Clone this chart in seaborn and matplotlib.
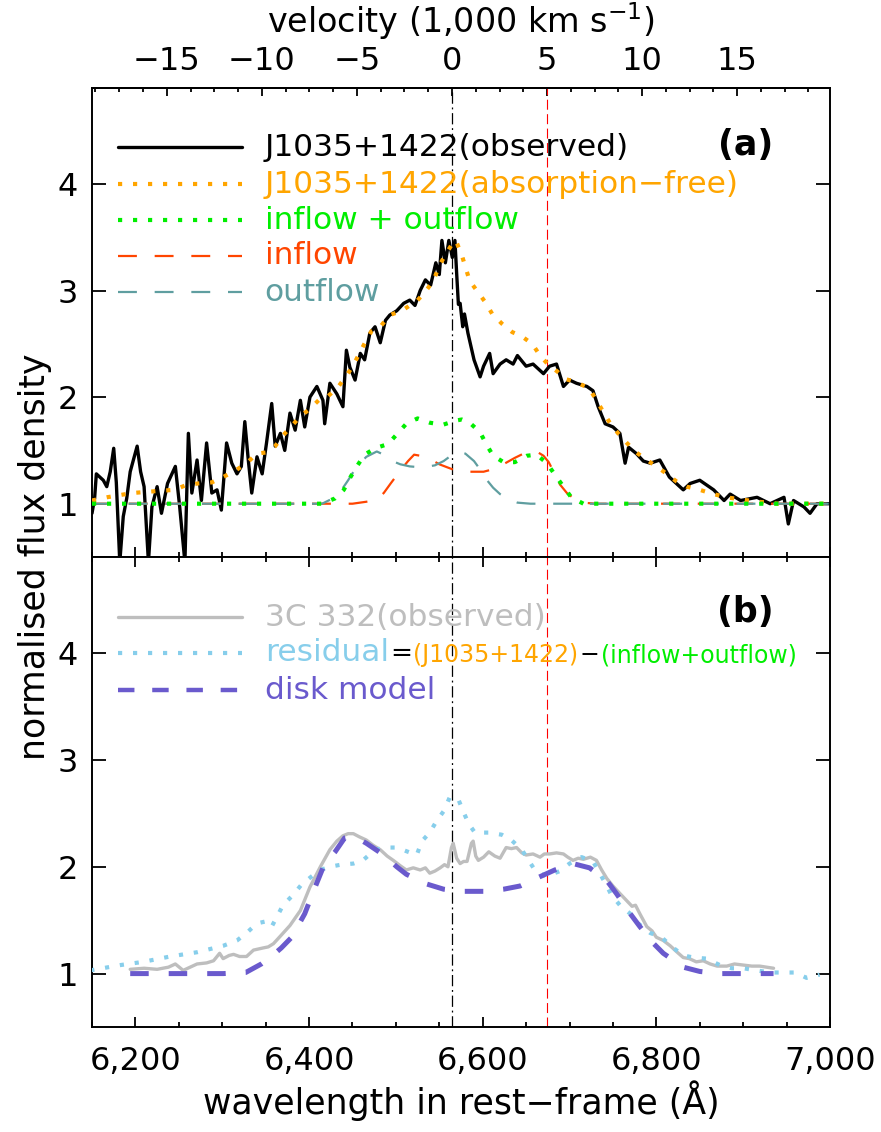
import numpy as np
import pandas as pd
import matplotlib
matplotlib.use("Agg")
import matplotlib.pyplot as plt
from matplotlib.ticker import MultipleLocator, FuncFormatter
import seaborn as sns

LAM0 = 6564.6          # H-alpha rest wavelength
C_KMS = 299792.458
LAM_RED = 6674.0       # +5,000 km/s marker

# ---------------- panel (a) ----------------
obs_wl = [6150, 6153, 6155, 6159, 6163, 6167, 6171, 6175, 6178, 6182, 6186, 6190, 6194, 6202, 6206,
          6210, 6215, 6219, 6225, 6230, 6237, 6242, 6246, 6251, 6257, 6261, 6265, 6271, 6276, 6282,
          6288, 6294, 6299, 6305, 6311, 6317, 6322, 6326, 6330, 6334, 6340, 6346, 6351, 6357, 6361,
          6367, 6372, 6378, 6384, 6390, 6395, 6401, 6409, 6416, 6418, 6424, 6432, 6439, 6443, 6447,
          6453, 6459, 6464, 6470, 6476, 6482, 6488, 6493, 6501, 6509, 6516, 6522, 6528, 6534, 6540,
          6546, 6550, 6553, 6557, 6561, 6565, 6568, 6570, 6572, 6574, 6577, 6579, 6583, 6590, 6597,
          6601, 6608, 6612, 6620, 6627, 6635, 6640, 6650, 6658, 6670, 6677, 6685, 6693, 6700, 6708,
          6720, 6727, 6733, 6741, 6750, 6758, 6764, 6768, 6777, 6785, 6793, 6804, 6815, 6831, 6839,
          6850, 6866, 6878, 6885, 6897, 6916, 6931, 6947, 6952, 6958, 6970, 6977, 6985, 7000]
obs_fl = [0.91, 1.05, 1.28, 1.25, 1.22, 1.16, 1.30, 1.52, 1.20, 0.45, 0.88, 1.05, 1.30, 1.54, 1.30,
          1.16, 0.45, 0.97, 1.16, 0.91, 1.19, 1.28, 1.35, 0.97, 0.45, 1.66, 1.10, 1.41, 1.03, 1.57,
          1.10, 1.13, 0.94, 1.57, 1.38, 1.28, 1.35, 1.77, 1.41, 1.10, 1.44, 1.28, 1.57, 1.94, 1.54,
          1.66, 1.50, 1.85, 1.69, 1.97, 1.72, 2.00, 2.10, 1.97, 1.75, 2.13, 2.03, 1.91, 2.44, 2.28,
          2.16, 2.41, 2.35, 2.60, 2.66, 2.51, 2.72, 2.77, 2.81, 2.88, 2.91, 2.86, 3.00, 3.10, 3.05,
          3.26, 3.15, 3.47, 3.26, 3.47, 3.31, 3.47, 3.16, 2.87, 2.88, 2.66, 2.78, 2.60, 2.35, 2.19,
          2.29, 2.41, 2.22, 2.31, 2.35, 2.31, 2.39, 2.29, 2.31, 2.22, 2.29, 2.31, 2.10, 2.16, 2.13,
          2.10, 2.06, 1.91, 1.75, 1.72, 1.66, 1.38, 1.53, 1.47, 1.40, 1.38, 1.41, 1.25, 1.13, 1.19,
          1.22, 1.13, 1.03, 1.09, 1.03, 1.06, 1.00, 1.06, 0.81, 1.03, 0.97, 0.91, 1.00, 1.00]

free_wl = [6150, 6167, 6196, 6227, 6245, 6257, 6272, 6288, 6301, 6315, 6328, 6340, 6350, 6361, 6370,
           6380, 6390, 6401, 6411, 6422, 6433, 6443, 6451, 6458, 6465, 6472, 6483, 6493, 6507, 6516,
           6524, 6534, 6543, 6551, 6559, 6565, 6569, 6576, 6585, 6595, 6603, 6611, 6622, 6634, 6645,
           6657, 6666, 6676, 6686, 6695, 6708, 6723, 6731, 6739, 6747, 6756, 6766, 6777, 6789, 6800,
           6812, 6823, 6835, 6850, 6866, 6881, 6897, 6916, 6940, 6970, 7000]
free_fl = [1.03, 1.06, 1.10, 1.12, 1.13, 1.17, 1.19, 1.20, 1.25, 1.31, 1.38, 1.47, 1.48, 1.54, 1.64,
           1.73, 1.82, 1.89, 1.97, 2.01, 2.09, 2.20, 2.30, 2.41, 2.52, 2.62, 2.67, 2.77, 2.81, 2.86,
           2.90, 2.99, 3.09, 3.25, 3.36, 3.44, 3.47, 3.33, 3.09, 2.98, 2.89, 2.78, 2.69, 2.61, 2.57,
           2.50, 2.39, 2.30, 2.24, 2.17, 2.14, 2.08, 1.97, 1.86, 1.75, 1.66, 1.57, 1.48, 1.41, 1.35,
           1.28, 1.21, 1.16, 1.13, 1.09, 1.06, 1.04, 1.02, 1.00, 1.00, 1.00]

inout_wl = [6150, 6415, 6430, 6440, 6447, 6455, 6464, 6476, 6491, 6501, 6512, 6525, 6539, 6554, 6569,
            6576, 6585, 6597, 6604, 6612, 6624, 6637, 6651, 6662, 6674, 6685, 6693, 6702, 6716, 7000]
inout_fl = [1.00, 1.00, 1.05, 1.13, 1.24, 1.35, 1.46, 1.52, 1.56, 1.65, 1.75, 1.80, 1.76, 1.74, 1.78,
            1.79, 1.76, 1.67, 1.56, 1.45, 1.39, 1.39, 1.45, 1.46, 1.38, 1.25, 1.16, 1.06, 1.00, 1.00]

inflow_wl = [6150, 6415, 6450, 6476, 6486, 6494, 6505, 6514, 6521, 6535, 6550, 6566, 6582, 6601, 6615,
             6626, 6637, 6647, 6655, 6662, 6670, 6676, 6683, 6689, 6697, 6705, 6716, 6730, 7000]
inflow_fl = [1.00, 1.00, 1.00, 1.03, 1.10, 1.19, 1.31, 1.40, 1.46, 1.44, 1.37, 1.32, 1.30, 1.30, 1.33,
             1.38, 1.43, 1.47, 1.49, 1.49, 1.45, 1.39, 1.28, 1.18, 1.10, 1.05, 1.01, 1.00, 1.00]

outflow_wl = [6150, 6400, 6415, 6425, 6435, 6445, 6455, 6466, 6478, 6486, 6493, 6505, 6516, 6531, 6545,
              6555, 6565, 6572, 6580, 6590, 6598, 6605, 6612, 6620, 6630, 6640, 6655, 7000]
outflow_fl = [1.00, 1.00, 1.00, 1.04, 1.10, 1.22, 1.35, 1.44, 1.49, 1.46, 1.41, 1.37, 1.35, 1.34, 1.36,
              1.40, 1.46, 1.49, 1.47, 1.40, 1.31, 1.22, 1.15, 1.09, 1.04, 1.01, 1.00, 1.00]

# ---------------- panel (b) ----------------
c3_wl = [6194, 6210, 6225, 6238, 6246, 6255, 6263, 6271, 6282, 6290, 6297, 6301, 6308, 6313, 6320,
         6328, 6336, 6347, 6353, 6359, 6368, 6378, 6390, 6401, 6413, 6424, 6432, 6439, 6445, 6451,
         6458, 6466, 6474, 6482, 6490, 6497, 6505, 6512, 6520, 6528, 6534, 6539, 6545, 6551, 6556,
         6560, 6564, 6566, 6570, 6574, 6578, 6582, 6587, 6589, 6592, 6595, 6601, 6607, 6614, 6620,
         6627, 6633, 6639, 6645, 6650, 6658, 6666, 6671, 6677, 6685, 6693, 6698, 6704, 6710, 6716,
         6724, 6731, 6737, 6743, 6750, 6758, 6765, 6772, 6776, 6781, 6789, 6795, 6800, 6808, 6816,
         6824, 6831, 6838, 6846, 6854, 6862, 6870, 6881, 6890, 6900, 6910, 6919, 6927, 6935]
c3_fl = [1.04, 1.05, 1.04, 1.06, 1.09, 1.03, 1.06, 1.09, 1.10, 1.12, 1.19, 1.14, 1.17, 1.18, 1.16,
         1.16, 1.22, 1.24, 1.25, 1.28, 1.36, 1.45, 1.59, 1.81, 2.00, 2.16, 2.24, 2.29, 2.31, 2.31,
         2.28, 2.25, 2.20, 2.16, 2.10, 2.06, 2.01, 1.97, 1.99, 1.97, 1.99, 1.94, 1.96, 1.99, 2.02,
         2.00, 2.18, 2.22, 2.08, 2.03, 2.05, 2.05, 2.22, 2.24, 2.10, 2.06, 2.09, 2.14, 2.10, 2.08,
         2.18, 2.17, 2.18, 2.13, 2.11, 2.12, 2.09, 2.12, 2.12, 2.13, 2.12, 2.09, 2.06, 2.08, 2.07,
         2.09, 2.06, 1.97, 1.89, 1.82, 1.75, 1.69, 1.63, 1.64, 1.56, 1.44, 1.40, 1.34, 1.31, 1.26,
         1.20, 1.15, 1.14, 1.11, 1.12, 1.09, 1.07, 1.07, 1.09, 1.08, 1.07, 1.07, 1.06, 1.05]

resid_wl = [6148, 6183, 6209, 6240, 6271, 6301, 6317, 6328, 6340, 6351, 6357, 6370, 6382, 6391, 6403,
            6413, 6424, 6437, 6451, 6462, 6476, 6489, 6501, 6514, 6524, 6530, 6539, 6547, 6555, 6562,
            6572, 6578, 6584, 6591, 6607, 6622, 6633, 6645, 6660, 6673, 6689, 6700, 6714, 6727, 6741,
            6748, 6758, 6770, 6779, 6793, 6806, 6818, 6831, 6843, 6858, 6873, 6887, 6900, 6931, 6947,
            6960, 6973, 6988]
resid_fl = [1.03, 1.08, 1.11, 1.16, 1.20, 1.26, 1.31, 1.38, 1.47, 1.49, 1.44, 1.64, 1.74, 1.83, 1.91,
            1.97, 2.00, 2.02, 2.03, 2.06, 2.16, 2.18, 2.18, 2.14, 2.11, 2.24, 2.32, 2.43, 2.52, 2.65,
            2.63, 2.51, 2.40, 2.32, 2.32, 2.30, 2.25, 2.16, 1.97, 1.91, 1.96, 2.03, 2.09, 2.05, 1.85,
            1.74, 1.64, 1.56, 1.47, 1.38, 1.34, 1.25, 1.17, 1.15, 1.14, 1.08, 1.05, 1.05, 1.01, 1.01,
            1.01, 0.96, 0.99]

disk_wl = [6194, 6301, 6327, 6345, 6358, 6368, 6380, 6395, 6407, 6418, 6430, 6441, 6451, 6466, 6486,
           6501, 6512, 6535, 6555, 6578, 6601, 6624, 6643, 6664, 6683, 6704, 6723, 6743, 6754, 6770,
           6781, 6797, 6808, 6831, 6850, 6873, 6935]
disk_fl = [1.00, 1.00, 1.01, 1.09, 1.17, 1.24, 1.34, 1.56, 1.81, 2.03, 2.14, 2.27, 2.29, 2.22, 2.11,
           2.00, 1.93, 1.84, 1.79, 1.77, 1.77, 1.79, 1.82, 1.90, 1.97, 2.03, 1.99, 1.87, 1.75, 1.56,
           1.44, 1.28, 1.19, 1.06, 1.02, 1.00, 1.00]

x_ticks = [6200, 6400, 6600, 6800, 7000]
y_ticks = [1, 2, 3, 4]
v_ticks = [-15, -10, -5, 0, 5, 10, 15]

# colours
C_OBS = "black"
C_FREE = "#FFA500"
C_INOUT = "#00EE00"
C_IN = "#FF4500"
C_OUT = "#5F9EA0"
C_3C = "#BEBEBE"
C_RES = "#87CEEB"
C_DISK = "#6A5ACD"

sns.set_style("white")
plt.rcParams['font.family'] = ['DejaVu Sans']
plt.rcParams.update({
    'axes.linewidth': 1.4,
    'text.color': 'black',
    'axes.labelcolor': 'black',
    'xtick.color': 'black',
    'ytick.color': 'black',
    'axes.edgecolor': 'black',
})

W, H = 881, 1132
fig = plt.figure(figsize=(W / 100, H / 100), dpi=100)
ax_a = fig.add_axes([92 / W, 1 - 557 / H, 738 / W, 469 / H])
ax_b = fig.add_axes([92 / W, 1 - 1027 / H, 738 / W, 470 / H])

DOT = (0, (1, 2.6))
DASH = (0, (8.5, 8))
DISK_DASH = (0, (3.7, 4.0))
LW_DOT = 3.0


def line(ax, x, y, **kw):
    df = pd.DataFrame({"x": x, "y": y})
    sns.lineplot(data=df, x="x", y="y", ax=ax, estimator=None, sort=False,
                 legend=False, **kw)


# panel a curves
line(ax_a, obs_wl, obs_fl, color=C_OBS, linewidth=2.4, zorder=2)
line(ax_a, free_wl, free_fl, color=C_FREE, linewidth=LW_DOT, linestyle=DOT, zorder=3)
line(ax_a, inflow_wl, inflow_fl, color=C_IN, linewidth=1.6, linestyle=DASH, zorder=3)
line(ax_a, outflow_wl, outflow_fl, color=C_OUT, linewidth=1.6, linestyle=DASH, zorder=4)
line(ax_a, inout_wl, inout_fl, color=C_INOUT, linewidth=LW_DOT, linestyle=DOT, zorder=5)

# panel b curves
line(ax_b, c3_wl, c3_fl, color=C_3C, linewidth=2.4, zorder=2)
line(ax_b, resid_wl, resid_fl, color=C_RES, linewidth=LW_DOT, linestyle=DOT, zorder=3)
line(ax_b, disk_wl, disk_fl, color=C_DISK, linewidth=3.6, linestyle=DISK_DASH, zorder=4)

for ax in (ax_a, ax_b):
    ax.axvline(LAM0, color="black", linewidth=0.9, linestyle=(0, (9, 3, 1.5, 3)), zorder=1)
    ax.axvline(LAM_RED, color="red", linewidth=0.8, linestyle=(0, (9, 4)), zorder=1)
    ax.set_xlim(6150, 7000)
    ax.set_ylim(0.5, 4.9)
    ax.set_xticks(x_ticks)
    ax.xaxis.set_minor_locator(MultipleLocator(50))
    ax.set_yticks(y_ticks)
    ax.xaxis.set_major_formatter(FuncFormatter(lambda v, p: f"{int(v):,}"))
    ax.tick_params(axis="x", which="major", direction="in", length=7, width=1.3,
                   labelsize=23, pad=14)
    ax.tick_params(axis="x", which="minor", direction="in", length=3.5, width=1.3)
    ax.tick_params(axis="y", which="major", direction="in", length=10, width=1.3,
                   left=True, right=True, labelsize=23, pad=10)
    ax.set_xlabel("")
    ax.set_ylabel("")
    for s in ax.spines.values():
        s.set_linewidth(1.4)
        s.set_color("black")

ax_a.tick_params(axis="x", which="both", bottom=True, top=False, labelbottom=False)
ax_b.tick_params(axis="x", which="both", bottom=True, top=True, labelbottom=True)


def lam2vel(l):
    return (np.asarray(l) / LAM0 - 1.0) * C_KMS / 1000.0


def vel2lam(v):
    return LAM0 * (1.0 + np.asarray(v) * 1000.0 / C_KMS)


sec = ax_a.secondary_xaxis("top", functions=(lam2vel, vel2lam))
sec.set_xticks(v_ticks)
sec.xaxis.set_minor_locator(MultipleLocator(1.25))
sec.tick_params(axis="x", which="major", direction="in", length=6, width=1.3,
                labelsize=23, pad=8)
sec.tick_params(axis="x", which="minor", direction="in", length=3, width=1.3)
sec.set_xlabel("velocity (1,000 km s$^{-1}$)", fontsize=24, labelpad=9)

ax_b.set_xlabel("wavelength in rest\u2212frame (\u00c5)", fontsize=25, labelpad=2)
fig.text(35 / W, 1 - 557 / H, "normalised flux density", rotation=90,
         fontsize=25, ha="center", va="center")

# legends (manual)
LEG_FS = 22.5
x0, x1, xt = 0.035, 0.203, 0.234
rows_a = [("J1035+1422(observed)", C_OBS, "-", 2.4),
          ("J1035+1422(absorption\u2212free)", C_FREE, DOT, LW_DOT),
          ("inflow + outflow", C_INOUT, DOT, LW_DOT),
          ("inflow", C_IN, DASH, 1.6),
          ("outflow", C_OUT, DASH, 1.6)]
ys_a = [0.874, 0.795, 0.718, 0.642, 0.565]
for (lab, col, ls, lw), yy in zip(rows_a, ys_a):
    ax_a.plot([x0, x1], [yy, yy], transform=ax_a.transAxes, color=col, linestyle=ls,
              linewidth=lw, clip_on=False)
    ax_a.text(xt, yy, lab, transform=ax_a.transAxes, color=col, fontsize=LEG_FS,
              va="center", ha="left")
ax_a.text(0.885, 0.878, "(a)", transform=ax_a.transAxes, fontsize=25,
          fontweight="bold", ha="center", va="center")

rows_b = [("3C 332(observed)", C_3C, "-", 2.4),
          ("residual", C_RES, DOT, LW_DOT),
          ("disk model", C_DISK, DISK_DASH, 3.2)]
ys_b = [0.872, 0.796, 0.717]
texts_b = []
for (lab, col, ls, lw), yy in zip(rows_b, ys_b):
    ax_b.plot([x0, x1], [yy, yy], transform=ax_b.transAxes, color=col, linestyle=ls,
              linewidth=lw, clip_on=False)
    texts_b.append(ax_b.text(xt, yy, lab, transform=ax_b.transAxes, color=col,
                             fontsize=LEG_FS, va="center", ha="left"))
ax_b.text(0.885, 0.883, "(b)", transform=ax_b.transAxes, fontsize=25,
          fontweight="bold", ha="center", va="center")

prev = texts_b[1]
for piece, col, fs in [("=", "black", 19), ("(J1035+1422)", C_FREE, 17),
                       ("\u2212", "black", 17), ("(inflow+outflow)", C_INOUT, 17)]:
    prev = ax_b.annotate(piece, xy=(1, 0), xycoords=prev, xytext=(1, 0),
                         textcoords="offset points", color=col, fontsize=fs,
                         ha="left", va="bottom")

fig.savefig("out.png", dpi=100)
